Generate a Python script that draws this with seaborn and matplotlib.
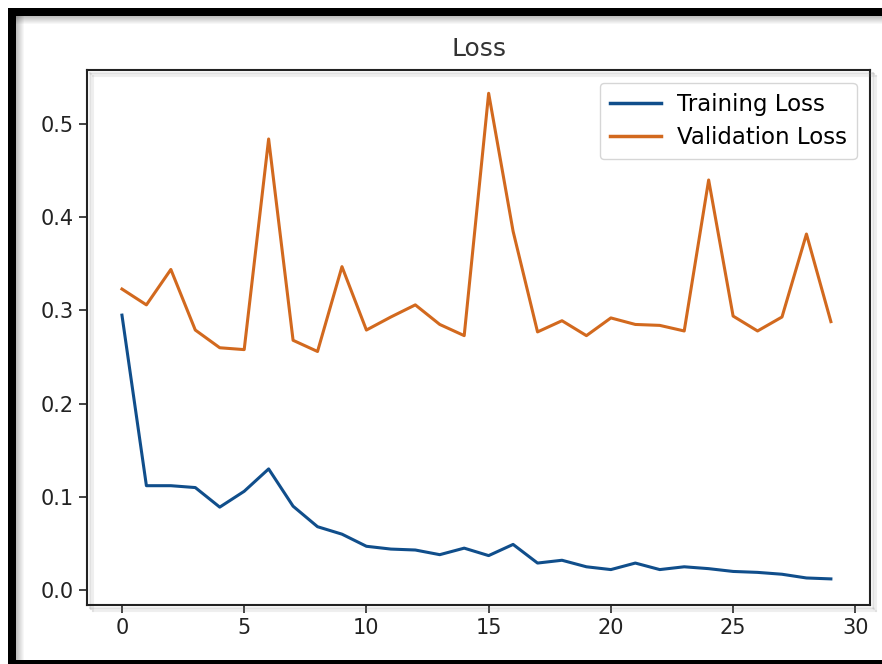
import matplotlib
matplotlib.use("Agg")
import matplotlib.pyplot as plt
import matplotlib.patheffects as pe
from matplotlib.patches import Rectangle
import seaborn as sns
import pandas as pd

epochs = list(range(30))
training_loss = [0.295, 0.112, 0.112, 0.110, 0.089, 0.106, 0.130, 0.090, 0.068, 0.060,
                 0.047, 0.044, 0.043, 0.038, 0.045, 0.037, 0.049, 0.029, 0.032, 0.025,
                 0.022, 0.029, 0.022, 0.025, 0.023, 0.020, 0.019, 0.017, 0.013, 0.012]
validation_loss = [0.323, 0.306, 0.344, 0.279, 0.260, 0.258, 0.484, 0.268, 0.256, 0.347,
                   0.279, 0.293, 0.306, 0.285, 0.273, 0.533, 0.385, 0.277, 0.289, 0.273,
                   0.292, 0.285, 0.284, 0.278, 0.440, 0.294, 0.278, 0.293, 0.382, 0.288]
series_names = ["Training Loss", "Validation Loss"]
title = "Loss"

df = pd.DataFrame({"epoch": epochs, "train": training_loss, "val": validation_loss})

W, H = 882, 664
fig = plt.figure(figsize=(W / 100, H / 100), dpi=100)
ax = fig.add_axes([87 / W, 1 - 605 / H, (870 - 87) / W, (605 - 70) / H])

sns.lineplot(data=df, x="epoch", y="train", ax=ax, color="#104E8B", linewidth=2.2, label=series_names[0])
sns.lineplot(data=df, x="epoch", y="val", ax=ax, color="#D2691E", linewidth=2.2, label=series_names[1])

ax.set_xlabel("")
ax.set_ylabel("")
ax.set_xticks([0, 5, 10, 15, 20, 25, 30])
ax.set_yticks([0.0, 0.1, 0.2, 0.3, 0.4, 0.5])
ax.set_xlim(-1.43, 30.6)
ax.set_ylim(-0.016, 0.558)
ax.tick_params(labelsize=15, length=6, width=1.2, colors="#222222")
soft = [pe.SimpleLineShadow(offset=(o, -o), shadow_color="0.5", alpha=0.12) for o in (2, 3, 4)] + [pe.Normal()]
for s in ax.spines.values():
    s.set_linewidth(1.5)
    s.set_color("#222222")
    s.set_path_effects(soft)

ax.set_title(title, fontsize=18, color="#333333", pad=10)

leg = ax.legend(loc="upper right", fontsize=16.5, frameon=True, handlelength=2.2,
                borderpad=0.45, labelspacing=0.45, handletextpad=0.7,
                bbox_to_anchor=(0.998, 0.998))
leg.get_frame().set_edgecolor("#cccccc")
for line in leg.get_lines():
    line.set_linewidth(2.5)

# screenshot frame
fig.patches.append(Rectangle((8 / W, 1 - 16 / H), 1, 8 / H, transform=fig.transFigure,
                             facecolor="black", edgecolor="none", zorder=10))
fig.patches.append(Rectangle((8 / W, 0), 8 / W, 1 - 8 / H, transform=fig.transFigure,
                             facecolor="black", edgecolor="none", zorder=10))
fig.patches.append(Rectangle((8 / W, 0), 1, 4 / H, transform=fig.transFigure,
                             facecolor="black", edgecolor="none", zorder=10))
for i in range(8):
    a = 0.25 * (1 - i / 8)
    fig.patches.append(Rectangle(((16 + i) / W, 0), 1 / W, 1 - 16 / H, transform=fig.transFigure,
                                 facecolor="black", alpha=a, edgecolor="none", zorder=9))
    fig.patches.append(Rectangle((16 / W, 1 - (17 + i) / H), 1, 1 / H, transform=fig.transFigure,
                                 facecolor="black", alpha=a, edgecolor="none", zorder=9))

fig.savefig("out.png", dpi=100)
